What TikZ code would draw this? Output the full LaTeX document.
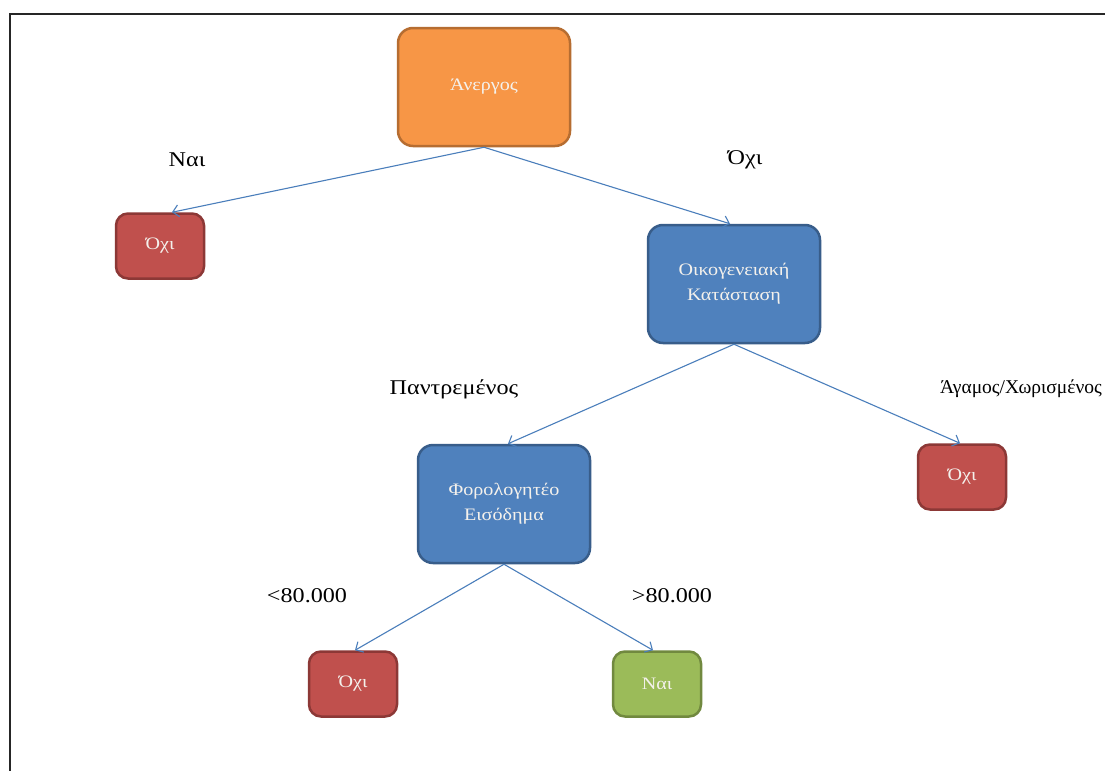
\documentclass[tikz,border=0pt]{standalone}
\usepackage{fontspec}
\setmainfont{Liberation Serif}
\newfontfamily\widefont[FakeStretch=1.15]{Liberation Serif}
\usetikzlibrary{arrows.meta}

\definecolor{orangeF}{HTML}{F79646}
\definecolor{orangeD}{HTML}{B66D31}
\definecolor{redF}{HTML}{C0504D}
\definecolor{redD}{HTML}{8C3836}
\definecolor{blueF}{HTML}{4F81BD}
\definecolor{blueD}{HTML}{385D8A}
\definecolor{greenF}{HTML}{9BBB59}
\definecolor{greenD}{HTML}{71893F}
\definecolor{linkC}{HTML}{4A7EBB}
\definecolor{boxText}{HTML}{F4F1EC}

\tikzset{
  box/.style={rectangle, rounded corners=15pt, line width=2.5pt, text=boxText,
    align=center, font=\widefont\fontsize{17.5}{25}\selectfont, inner sep=0pt},
  bigbox/.style={box, minimum width=172pt, minimum height=118pt},
  leaf/.style={box, rounded corners=12pt, minimum width=88pt, minimum height=65pt},
  rootbox/.style={bigbox, fill=orangeF, draw=orangeD},
  testbox/.style={bigbox, fill=blueF, draw=blueD},
  noleaf/.style={leaf, fill=redF, draw=redD},
  yesleaf/.style={leaf, fill=greenF, draw=greenD},
  link/.style={draw=linkC, line width=1.1pt, -{Straight Barb[length=6pt,width=12pt]}},
  lbl/.style={font=\widefont\fontsize{21}{24}\selectfont, text=black, inner sep=0pt}
}

\begin{document}
\begin{tikzpicture}[x=1pt, y=-1pt]
  \useasboundingbox (0,0) rectangle (1105,771);
  \fill[white] (0,0) rectangle (1105,771);

  % outer frame (top and left edges)
  \draw[line width=2pt, black!85] (1105,14) -- (10,14) -- (10,771);

  % decision nodes
  \node[rootbox] (root) at (484,87) {Άνεργος};
  \node[testbox] (family) at (734,284) {Οικογενειακή\\Κατάσταση};
  \node[testbox] (income) at (504,504) {Φορολογητέο\\Εισόδημα};

  % leaves
  \node[noleaf] (noA) at (160,246) {Όχι};
  \node[noleaf] (noB) at (962,477) {Όχι};
  \node[noleaf] (noC) at (353,684) {Όχι};
  \node[yesleaf] (yesC) at (657,684) {Ναι};

  % branches
  \draw[link] (root.south) -- ([xshift=12pt]noA.north);
  \draw[link] (root.south) -- ([xshift=-4pt]family.north);
  \draw[link] (family.south) -- ([xshift=4pt]income.north);
  \draw[link] (family.south) -- ([xshift=-2pt]noB.north);
  \draw[link] (income.south) -- ([xshift=2pt]noC.north);
  \draw[link] (income.south) -- ([xshift=-4pt]yesC.north);

  % branch labels
  \node[lbl] (lNai) at (187,160) {Ναι};
  \node[lbl] (lOxi) at (745,160) {Όχι};
  \node[lbl] (lMarried) at (454,389) {Παντρεμένος};
  \node[lbl, font=\fontsize{19.5}{22}\selectfont] (lSingle) at (1021,389) {Άγαμος/Χωρισμένος};
  \node[lbl] (lLow) at (307,596) {<80.000};
  \node[lbl] (lHigh) at (672,596) {>80.000};
\end{tikzpicture}
\end{document}
